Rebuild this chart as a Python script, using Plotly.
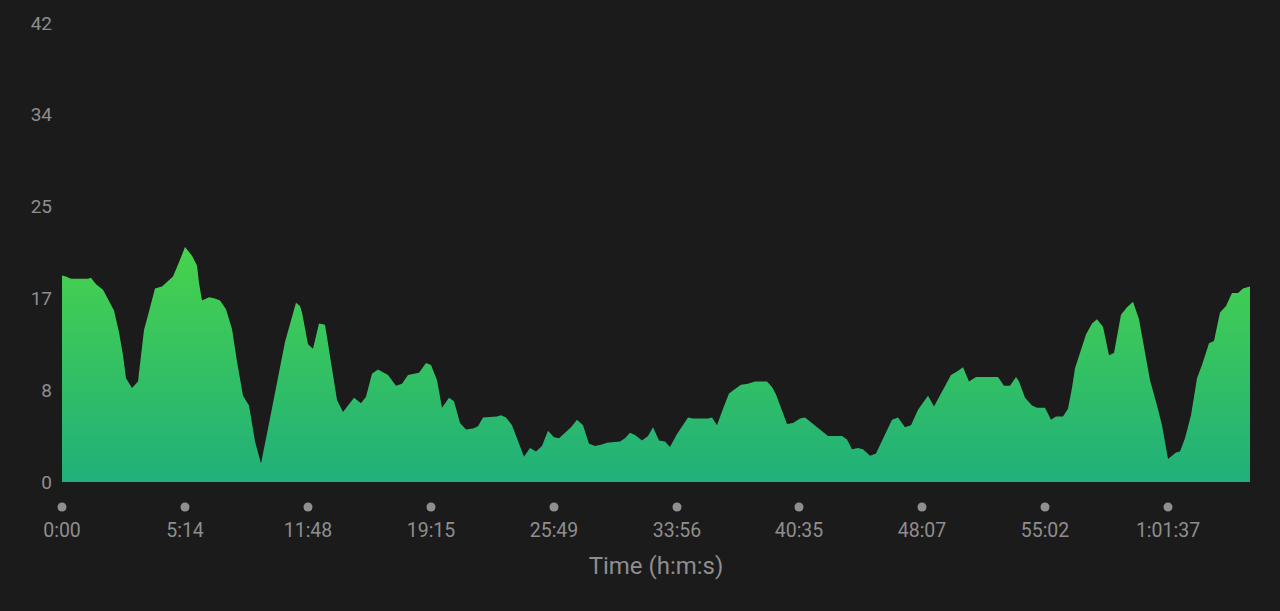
import plotly.graph_objects as go

# sample index along the activity (x) and value (y)
sample = [0, 4, 9, 26, 29, 34, 41, 46, 52, 57, 61, 64, 70, 76, 79, 82, 87, 93, 100, 105,
          111, 117, 123, 130, 135, 137, 140, 147, 153, 158, 164, 170, 175, 181, 187, 193, 199, 206, 213, 223,
          234, 238, 240, 246, 251, 257, 263, 269, 275, 281, 286, 292, 299, 304, 310, 316, 326, 334, 340, 346,
          357, 364, 369, 375, 380, 387, 392, 398, 404, 411, 416, 421, 435, 439, 444, 450, 462, 468, 474, 480,
          486, 492, 497, 504, 509, 515, 521, 527, 533, 539, 545, 558, 563, 568, 573, 580, 586, 591, 597, 603,
          608, 615, 626, 631, 646, 650, 655, 661, 667, 673, 679, 686, 693, 705, 710, 714, 718, 725, 731, 738,
          743, 755, 766, 780, 785, 790, 796, 801, 808, 814, 819, 830, 836, 843, 849, 856, 866, 872, 876, 889,
          895, 901, 907, 914, 936, 942, 948, 954, 957, 963, 970, 975, 983, 989, 994, 1001, 1006, 1010, 1013, 1019,
          1024, 1030, 1035, 1041, 1047, 1052, 1059, 1065, 1071, 1077, 1082, 1088, 1095, 1100, 1106, 1114, 1118, 1123, 1129, 1135,
          1140, 1147, 1152, 1158, 1164, 1170, 1176, 1181, 1188]
value = [18.9, 18.8, 18.6, 18.6, 18.7, 18.1, 17.6, 16.7, 15.7, 13.7, 11.6, 9.5, 8.6, 9.2, 11.7, 13.9, 15.6, 17.7, 17.9, 18.3,
         18.8, 20.1, 21.5, 20.7, 19.8, 18.2, 16.6, 16.9, 16.8, 16.6, 15.8, 14.0, 11.0, 7.9, 7.0, 3.7, 1.7, 4.9, 8.2, 12.8,
         16.4, 16.1, 15.5, 12.6, 12.2, 14.5, 14.4, 11.0, 7.5, 6.4, 7.0, 7.7, 7.2, 7.8, 9.9, 10.3, 9.8, 8.8, 9.0, 9.8,
         10.0, 10.9, 10.7, 9.3, 6.8, 7.7, 7.4, 5.4, 4.8, 4.9, 5.1, 5.9, 6.0, 6.1, 5.9, 5.2, 2.3, 3.1, 2.8, 3.3,
         4.7, 4.1, 4.0, 4.6, 5.0, 5.7, 5.2, 3.5, 3.3, 3.4, 3.6, 3.7, 4.0, 4.5, 4.3, 3.8, 4.2, 5.0, 3.8, 3.7,
         3.2, 4.4, 5.9, 5.8, 5.8, 5.9, 5.2, 6.7, 8.1, 8.5, 8.9, 9.0, 9.2, 9.2, 8.7, 8.0, 7.0, 5.3, 5.4, 5.8,
         5.9, 5.0, 4.2, 4.2, 3.9, 3.0, 3.1, 3.0, 2.4, 2.6, 3.6, 5.7, 5.9, 5.0, 5.2, 6.6, 7.9, 6.9, 7.6, 9.8,
         10.1, 10.5, 9.2, 9.6, 9.6, 8.8, 8.8, 9.6, 9.2, 7.7, 7.0, 6.8, 6.8, 5.7, 6.0, 6.0, 6.7, 8.6, 10.4, 12.2,
         13.5, 14.5, 14.9, 14.2, 11.6, 11.8, 15.3, 16.0, 16.5, 14.9, 12.5, 9.3, 7.0, 5.2, 2.1, 2.7, 2.8, 4.0, 6.1, 9.5,
         10.7, 12.7, 12.9, 15.5, 16.1, 17.3, 17.3, 17.7, 17.9]

tick_samples = [0, 123, 246, 369, 492, 615, 737, 860, 983, 1106]
tick_labels = ["0:00", "5:14", "11:48", "19:15", "25:49", "33:56", "40:35", "48:07", "55:02", "1:01:37"]
y_tickvals = [0, 8.4, 16.8, 25.2, 33.6, 42]
y_ticktext = ["0", "8", "17", "25", "34", "42"]

BG = "#1b1b1b"
LABEL = "#8e8e8e"
X_MAX = sample[-1]

fig = go.Figure()
fig.add_trace(go.Scatter(
    x=sample, y=value, mode="lines", fill="tozeroy",
    line=dict(width=0, color="#3cc45a"),
    fillgradient=dict(type="vertical", colorscale=[[0, "#20b07a"], [1, "#48d24c"]]),
    hoverinfo="skip", showlegend=False,
))

# tick dots under the axis (pixel-sized circles anchored at each tick, paper-referenced so not clipped)
shapes = []
for t in tick_samples:
    shapes.append(dict(
        type="circle", xref="paper", yref="paper",
        xsizemode="pixel", ysizemode="pixel",
        xanchor=t / X_MAX, yanchor=0,
        x0=-4.5, x1=4.5, y0=-29.5, y1=-20.5,
        fillcolor="#8f8f8f", line=dict(width=0), layer="above",
    ))

fig.update_layout(
    width=1280, height=611,
    paper_bgcolor=BG, plot_bgcolor=BG,
    margin=dict(l=62, r=30, t=20, b=128.5),
    font=dict(family="Roboto", color=LABEL),
    shapes=shapes,
    xaxis=dict(
        range=[0, X_MAX], showgrid=False, zeroline=False, showline=False,
        tickvals=tick_samples, ticktext=tick_labels, ticks="",
        tickfont=dict(size=19.5, color=LABEL), ticklabelstandoff=34,
        title=dict(text="Time (h:m:s)", font=dict(size=24, color=LABEL), standoff=16),
    ),
    yaxis=dict(
        range=[0, 42], showgrid=False, zeroline=False, showline=False,
        tickvals=y_tickvals, ticktext=y_ticktext, ticks="",
        tickfont=dict(size=19, color=LABEL), ticklabelstandoff=9,
    ),
)

fig.write_html(
    "out.html",
    config={"displayModeBar": False},
    post_script="document.body.style.margin='0';document.body.style.background='#1b1b1b';",
)
